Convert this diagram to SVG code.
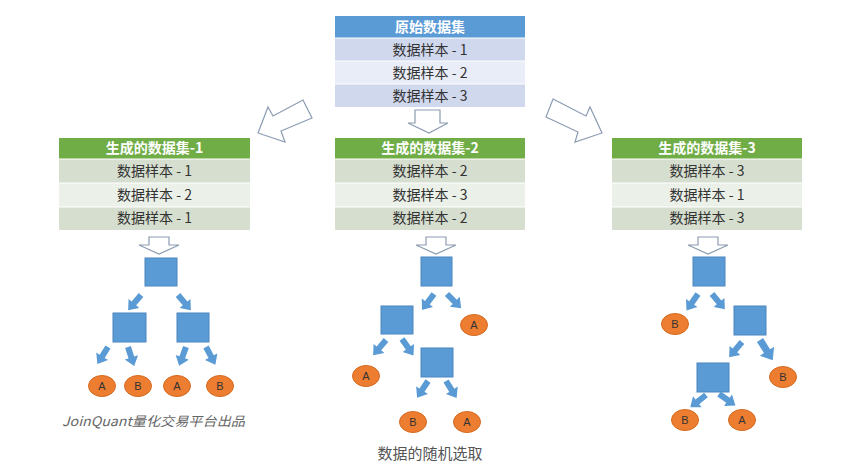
<svg xmlns="http://www.w3.org/2000/svg" xmlns:xlink="http://www.w3.org/1999/xlink" width="864" height="469" viewBox="0 0 864 469">
<style>
.hdr{font-family:"Noto Sans CJK SC","Liberation Sans",sans-serif;font-size:14px;font-weight:bold;fill:#ffffff;text-anchor:middle}
.row{font-family:"Noto Sans CJK SC","Liberation Sans",sans-serif;font-size:14px;fill:#333333;text-anchor:middle}
.bhdr{fill:#5b9bd5}
.bdark{fill:#d0d8ee}
.blight{fill:#e9edf7}
.ghdr{fill:#70ad47}
.gdark{fill:#d6dfcf}
.glight{fill:#ebf1e8}
.sep{stroke:#ffffff;stroke-width:1}
.hollow{fill:#ffffff;stroke:#8c9cb2;stroke-width:1.2;stroke-linejoin:miter}
.box{fill:#5b9bd5;stroke:#4a86c0;stroke-width:1}
.leaf{fill:#ed7d31;stroke:#d46b22;stroke-width:1}
.lt{font-family:"Liberation Sans",Arial,sans-serif;font-size:11px;fill:#333333;text-anchor:middle}
.barrow{fill:#5b9bd5}
.credit{font-family:"Noto Sans CJK SC","Liberation Sans",sans-serif;font-size:13px;font-style:italic;fill:#666666}
.caption{font-family:"Noto Sans CJK SC","Liberation Sans",sans-serif;font-size:15px;fill:#555555;text-anchor:middle}
</style>
<defs>
<path id="ba" d="M0,-3 L11,-3 L11,-7 L20,0 L11,7 L11,3 L0,3 Z"/>
<path id="ha" d="M-10,0 H10 V8 H20 L0,17 L-20,8 H-10 Z"/>
</defs>

<g id="source-table">
<rect class="bhdr" x="335" y="16" width="190" height="22"/>
<rect class="bdark" x="335" y="38" width="190" height="23"/>
<rect class="blight" x="335" y="61" width="190" height="23"/>
<rect class="bdark" x="335" y="84" width="190" height="23"/>
<line class="sep" x1="335" y1="38" x2="525" y2="38"/>
<line class="sep" x1="335" y1="61" x2="525" y2="61"/>
<line class="sep" x1="335" y1="84" x2="525" y2="84"/>
<text class="hdr" x="430" y="32">原始数据集</text>
<text class="row" x="430" y="55">数据样本 - 1</text>
<text class="row" x="430" y="78">数据样本 - 2</text>
<text class="row" x="430" y="101">数据样本 - 3</text>
</g>

<g id="dataset-1">
<rect class="ghdr" x="59" y="138" width="191" height="21"/>
<rect class="gdark" x="59" y="159" width="191" height="24"/>
<rect class="glight" x="59" y="183" width="191" height="24"/>
<rect class="gdark" x="59" y="207" width="191" height="23"/>
<line class="sep" x1="59" y1="159" x2="250" y2="159"/>
<line class="sep" x1="59" y1="183" x2="250" y2="183"/>
<line class="sep" x1="59" y1="207" x2="250" y2="207"/>
<text class="hdr" x="154.5" y="153">生成的数据集-1</text>
<text class="row" x="154.5" y="176">数据样本 - 1</text>
<text class="row" x="154.5" y="200">数据样本 - 2</text>
<text class="row" x="154.5" y="223">数据样本 - 1</text>
</g>

<g id="dataset-2">
<rect class="ghdr" x="335" y="138" width="190" height="21"/>
<rect class="gdark" x="335" y="159" width="190" height="24"/>
<rect class="glight" x="335" y="183" width="190" height="24"/>
<rect class="gdark" x="335" y="207" width="190" height="23"/>
<line class="sep" x1="335" y1="159" x2="525" y2="159"/>
<line class="sep" x1="335" y1="183" x2="525" y2="183"/>
<line class="sep" x1="335" y1="207" x2="525" y2="207"/>
<text class="hdr" x="430" y="153">生成的数据集-2</text>
<text class="row" x="430" y="176">数据样本 - 2</text>
<text class="row" x="430" y="200">数据样本 - 3</text>
<text class="row" x="430" y="223">数据样本 - 2</text>
</g>

<g id="dataset-3">
<rect class="ghdr" x="612" y="138" width="190" height="21"/>
<rect class="gdark" x="612" y="159" width="190" height="24"/>
<rect class="glight" x="612" y="183" width="190" height="24"/>
<rect class="gdark" x="612" y="207" width="190" height="23"/>
<line class="sep" x1="612" y1="159" x2="802" y2="159"/>
<line class="sep" x1="612" y1="183" x2="802" y2="183"/>
<line class="sep" x1="612" y1="207" x2="802" y2="207"/>
<text class="hdr" x="707" y="153">生成的数据集-3</text>
<text class="row" x="707" y="176">数据样本 - 3</text>
<text class="row" x="707" y="200">数据样本 - 1</text>
<text class="row" x="707" y="223">数据样本 - 3</text>
</g>

<g id="tree-1">
<rect class="box" x="145" y="258" width="32" height="28"/>
<rect class="box" x="113" y="313" width="33" height="29"/>
<rect class="box" x="177" y="313" width="32" height="29"/>
<ellipse class="leaf" cx="102" cy="386" rx="13.5" ry="10.5"/>
<text class="lt" x="102" y="390">A</text>
<ellipse class="leaf" cx="138" cy="386" rx="13.5" ry="10.5"/>
<text class="lt" x="138" y="390">B</text>
<ellipse class="leaf" cx="177" cy="386" rx="13.5" ry="10.5"/>
<text class="lt" x="177" y="390">A</text>
<ellipse class="leaf" cx="220" cy="386" rx="13.5" ry="10.5"/>
<text class="lt" x="220" y="390">B</text>
</g>

<g id="tree-2">
<rect class="box" x="421" y="257" width="31" height="29"/>
<rect class="box" x="381" y="306" width="32" height="28"/>
<rect class="box" x="421" y="348" width="32" height="29"/>
<ellipse class="leaf" cx="474" cy="325" rx="13.5" ry="10.5"/>
<text class="lt" x="474" y="329">A</text>
<ellipse class="leaf" cx="366" cy="376" rx="13.5" ry="10.5"/>
<text class="lt" x="366" y="380">A</text>
<ellipse class="leaf" cx="413" cy="422" rx="13.5" ry="10.5"/>
<text class="lt" x="413" y="426">B</text>
<ellipse class="leaf" cx="467" cy="422" rx="13.5" ry="10.5"/>
<text class="lt" x="467" y="426">A</text>
</g>

<g id="tree-3">
<rect class="box" x="693" y="257" width="32" height="29"/>
<rect class="box" x="734" y="306" width="32" height="29"/>
<rect class="box" x="697" y="363" width="32" height="29"/>
<ellipse class="leaf" cx="675" cy="324" rx="13.5" ry="10.5"/>
<text class="lt" x="675" y="328">B</text>
<ellipse class="leaf" cx="783" cy="377" rx="13.5" ry="10.5"/>
<text class="lt" x="783" y="381">B</text>
<ellipse class="leaf" cx="685" cy="420" rx="13.5" ry="10.5"/>
<text class="lt" x="685" y="424">B</text>
<ellipse class="leaf" cx="742" cy="420" rx="13.5" ry="10.5"/>
<text class="lt" x="742" y="424">A</text>
</g>

<g id="connectors">
<polygon class="hollow" points="258,133 268,107 273,116 303,100 312,118 281,131 285,142"/>
<polygon class="hollow" points="553,99 586,116 590,107 602,133 575,142 578,132 546,117"/>
<path class="hollow" d="M415,110 H440 V123 H448 L429,133 L408,123 H415 Z"/>
<use class="hollow" xlink:href="#ha" transform="translate(159,237)"/>
<use class="hollow" xlink:href="#ha" transform="translate(436,237)"/>
<use class="hollow" xlink:href="#ha" transform="translate(708,237)"/>

<use class="barrow" xlink:href="#ba" transform="translate(141,295) rotate(130)"/>
<use class="barrow" xlink:href="#ba" transform="translate(178,295) rotate(50)"/>
<use class="barrow" xlink:href="#ba" transform="translate(108,347) rotate(122)"/>
<use class="barrow" xlink:href="#ba" transform="translate(128,347) rotate(72)"/>
<use class="barrow" xlink:href="#ba" transform="translate(186,347) rotate(110)"/>
<use class="barrow" xlink:href="#ba" transform="translate(206,347) rotate(62)"/>

<use class="barrow" xlink:href="#ba" transform="translate(434,294) rotate(127)"/>
<use class="barrow" xlink:href="#ba" transform="translate(447,294) rotate(45)"/>
<use class="barrow" xlink:href="#ba" transform="translate(386,340) rotate(130)"/>
<use class="barrow" xlink:href="#ba" transform="translate(402,339) rotate(55)"/>
<use class="barrow" xlink:href="#ba" transform="translate(428,381) rotate(123)"/>
<use class="barrow" xlink:href="#ba" transform="translate(446,381) rotate(58)"/>

<use class="barrow" xlink:href="#ba" transform="translate(698,294) rotate(125)"/>
<use class="barrow" xlink:href="#ba" transform="translate(712,294) rotate(50)"/>
<use class="barrow" xlink:href="#ba" transform="translate(742,342) rotate(130)"/>
<use class="barrow" xlink:href="#ba" transform="translate(760,340) rotate(58) scale(1.2)"/>
<use class="barrow" xlink:href="#ba" transform="translate(706,395) rotate(142)"/>
<use class="barrow" xlink:href="#ba" transform="translate(719,394) rotate(35)"/>
</g>

<text class="credit" x="62" y="426" textLength="183" lengthAdjust="spacingAndGlyphs">JoinQuant量化交易平台出品</text>
<text class="caption" x="430" y="459">数据的随机选取</text>
</svg>
